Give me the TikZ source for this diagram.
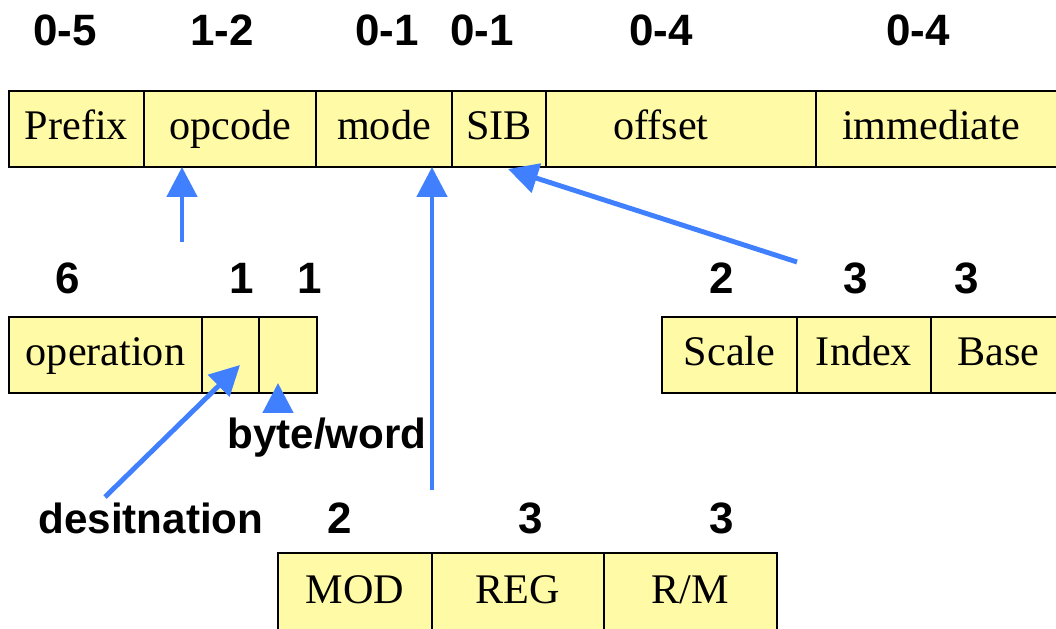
\documentclass[tikz,border=0pt]{standalone}
\usepackage{fontspec}
\setmainfont{Liberation Serif}
\setsansfont{Liberation Sans}
\usetikzlibrary{positioning,arrows.meta}
\definecolor{fieldyellow}{RGB}{255,250,165}
\definecolor{ptrblue}{RGB}{64,128,255}
\tikzset{
    field/.style={draw, line width=0.5pt, fill=fieldyellow, minimum height=0.76cm,
        inner sep=0pt, outer sep=0pt, text height=8.5pt, text depth=2.7pt,
        font=\fontsize{12}{14}\selectfont},
    bits/.style={font=\fontsize{12.5}{15}\selectfont\sffamily\bfseries},
    tag/.style={font=\fontsize{12}{14}\selectfont\sffamily\bfseries},
    ptr/.style={ptrblue, line width=1.4pt, -{Triangle[width=8.5pt,length=8.5pt]}}
}
\begin{document}
\begin{tikzpicture}
        \useasboundingbox (0,0) rectangle (10.56,6.29);
        % instruction format
        \node[field, minimum width=1.35cm, anchor=west] (prefix) at (0.09,5.00) {Prefix};
        \node[field, minimum width=1.72cm, right=0pt of prefix] (opcode) {opcode};
        \node[field, minimum width=1.36cm, right=0pt of opcode] (mode) {mode};
        \node[field, minimum width=0.94cm, right=0pt of mode] (sib) {SIB};
        \node[field, minimum width=2.70cm, right=0pt of sib] (offset) {offset\hspace*{0.4cm}};
        \node[field, minimum width=2.50cm, right=0pt of offset] (immediate) {immediate\hspace*{0.2cm}};
        \node[bits] (nprefix) at (0.65,5.99) {0-5};
        \node[bits] (nopcode) at (2.22,5.99) {1-2};
        \node[bits] (nmode) at (3.87,5.99) {0-1};
        \node[bits] (nsib) at (4.82,5.99) {0-1};
        \node[bits] (noffset) at (6.61,5.99) {0-4};
        \node[bits] (nimm) at (9.18,5.99) {0-4};
        % opcode byte
        \node[field, minimum width=1.93cm, anchor=west] (operation) at (0.09,2.74) {operation};
        \node[field, minimum width=0.57cm, right=0pt of operation] (dflag) {};
        \node[field, minimum width=0.58cm, right=0pt of dflag] (wflag) {};
        \node[bits] (noperation) at (0.68,3.51) {6};
        \node[bits] (ndflag) at (2.42,3.51) {1};
        \node[bits] (nwflag) at (3.10,3.51) {1};
        \node[tag] (destination) at (1.51,1.11) {desitnation};
        \node[tag] (byteword) at (3.27,1.91) {byte/word};
        % SIB byte
        \node[field, minimum width=1.35cm, anchor=west] (scale) at (6.62,2.74) {Scale};
        \node[field, minimum width=1.34cm, right=0pt of scale] (index) {Index};
        \node[field, minimum width=1.35cm, right=0pt of index] (base) {Base};
        \node[bits] (nscale) at (7.22,3.51) {2};
        \node[bits] (nindex) at (8.56,3.51) {3};
        \node[bits] (nbase) at (9.67,3.51) {3};
        % mode byte
        \node[field, minimum width=1.54cm, minimum height=0.80cm, anchor=west] (mod) at (2.78,0.36) {MOD};
        \node[field, minimum width=1.72cm, minimum height=0.80cm, right=0pt of mod] (reg) {REG};
        \node[field, minimum width=1.73cm, minimum height=0.80cm, right=0pt of reg] (rm) {R/M};
        \node[bits] (nmod) at (3.40,1.11) {2};
        \node[bits] (nreg) at (5.31,1.11) {3};
        \node[bits] (nrm) at (7.22,1.11) {3};
        % pointers
        \coordinate (optail) at (1.82,3.87);
        \coordinate (modetail) at (4.32,1.39);
        \coordinate (sibtail) at (7.97,3.67);
        \coordinate (sibtip) at (5.08,4.60);
        \coordinate (desttail) at (1.05,1.32);
        \coordinate (desttip) at (2.40,2.64);
        \coordinate (wtail) at (2.78,2.19);
        \coordinate (wtip) at (2.78,2.46);
        \draw[ptr] (optail) -- (optail |- opcode.south);
        \draw[ptr] (modetail) -- (modetail |- mode.south);
        \draw[ptr] (sibtail) -- (sibtip);
        \draw[ptr] (desttail) -- (desttip);
        \draw[ptr] (wtail) -- (wtip);
\end{tikzpicture}
\end{document}
